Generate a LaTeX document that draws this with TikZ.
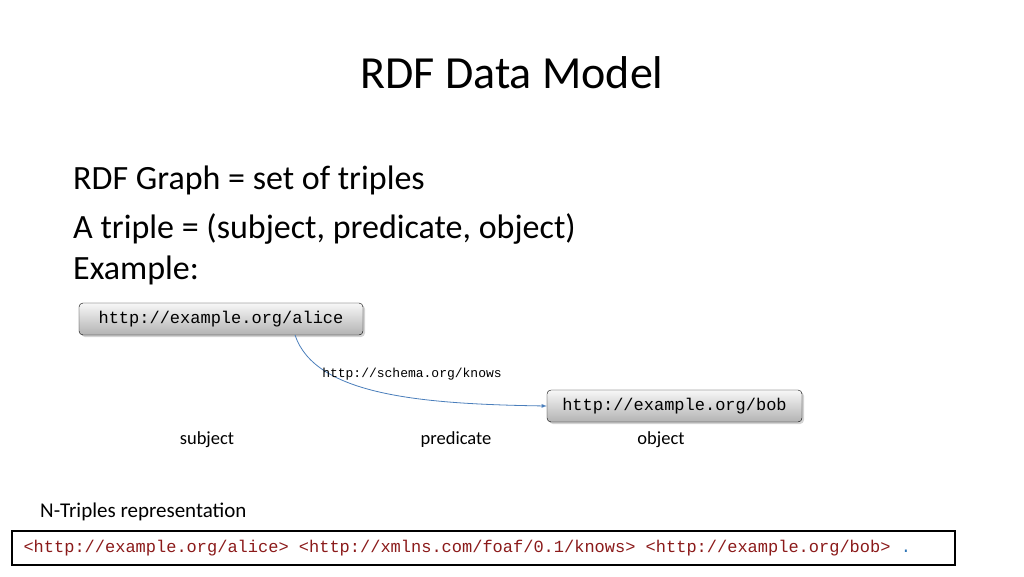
\documentclass[tikz,border=0pt]{standalone}
\usepackage{fontspec}
\setmainfont{Carlito}
\setmonofont{Liberation Mono}
\usetikzlibrary{shadows}
\definecolor{arrowblue}{HTML}{4A7EBB}
\definecolor{ntred}{HTML}{8B1A1A}
\definecolor{dotblue}{HTML}{2E75B6}
\tikzset{
  uri/.style={draw=black, rounded corners=4pt, top color=black!3, bottom color=black!30,
    drop shadow={shadow xshift=2pt, shadow yshift=-2pt, opacity=0.35},
    font=\fontsize{17}{20}\selectfont\ttfamily, inner xsep=8pt, minimum height=32pt},
  bullet/.style={anchor=west, inner xsep=0pt, font=\fontsize{34}{40}\selectfont},
  role/.style={font=\fontsize{18.5}{22}\selectfont},
}
\begin{document}
\begin{tikzpicture}[x=1pt,y=-1pt]
\useasboundingbox (0,0) rectangle (1024,576);
\node (title) at (512,73) {\fontsize{46}{54}\selectfont RDF Data Model};
\node[bullet] (l1) at (73,180) {RDF Graph = set of triples};
\node[bullet] (l2) at (73,229) {A triple = (subject, predicate, object)};
\node[bullet] (l3) at (73,270) {Example:};
\node[uri, minimum width=284pt] (alice) at (221,319) {http://example.org/alice};
\node[uri, minimum width=255pt] (bob) at (674.5,406) {http://example.org/bob};
\coordinate (start) at (295,335);
\draw[arrowblue, line width=0.8pt, -latex] (start) .. controls (315,395) and (420,404) .. (bob.west);
\node[font=\fontsize{13}{15}\selectfont\ttfamily] (pred) at (412,374) {http://schema.org/knows};
\node[role] (subj) at (207,440) {subject};
\node[role] (predl) at (456,440) {predicate};
\node[role] (obj) at (661,440) {object};
\node[anchor=west, inner xsep=0pt, font=\fontsize{21}{25}\selectfont] (nt) at (40,512) {N-Triples representation};
\draw[line width=2pt] (12,531) rectangle (955,565);
\node[anchor=west, font=\fontsize{17}{20}\selectfont\ttfamily, text=ntred] (ntline) at (20,548)
  {<http://example.org/alice> <http://xmlns.com/foaf/0.1/knows> <http://example.org/bob> \textcolor{dotblue}{.}};
\end{tikzpicture}
\end{document}
